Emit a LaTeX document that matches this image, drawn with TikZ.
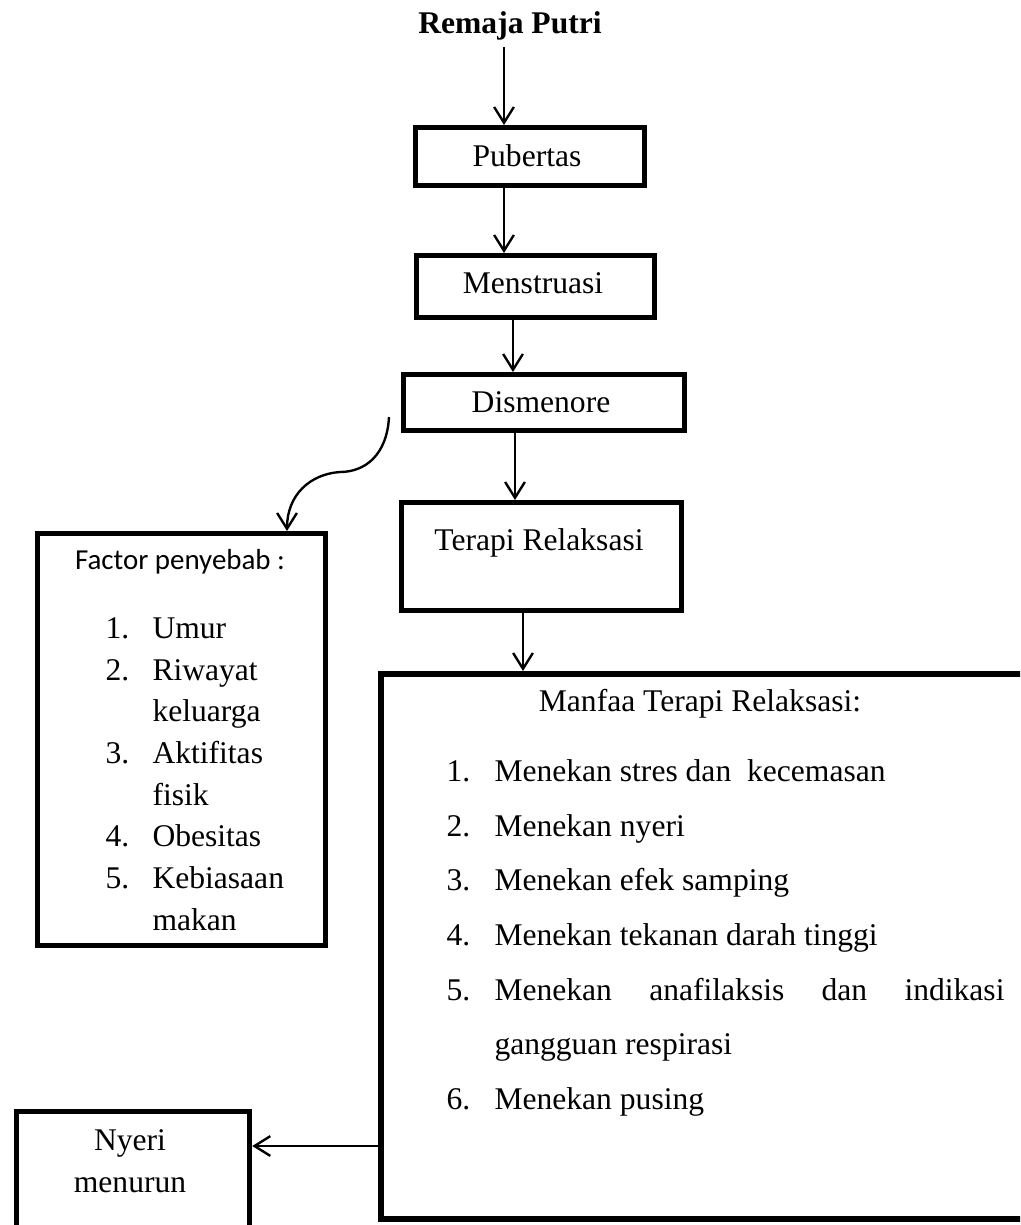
\documentclass[tikz,border=0pt]{standalone}
\usepackage{fontspec}
\setmainfont{Liberation Serif}
\newfontfamily\calfont{Carlito}
\usetikzlibrary{arrows.meta}
\newcommand\mybox[6][]{\node[box,#1,minimum width={(#5-#3)*0.38pt},minimum height={(#6-#4)*0.38pt}] (#2) at (#3,#4) {};}
\begin{document}
\begin{tikzpicture}[x=0.38pt,y=-0.38pt,
  box/.style={draw, line width=2pt, inner sep=0pt, anchor=north west, line join=miter},
  arr/.style={line width=0.9pt, -{Straight Barb[length=6pt,width=7.5pt,line width=0.9pt]}},
  txt/.style={inner sep=0pt, anchor=base, font=\fontsize{12}{14}\selectfont},
  lft/.style={txt, anchor=base west},
  ctxt/.style={inner sep=0pt, anchor=base, font=\calfont\fontsize{11}{13}\selectfont}]
\useasboundingbox (0,0) rectangle (1020,1225);
\clip (0,0) rectangle (1020,1225);
% boxes
\mybox{pub}{413}{125}{642}{183}
\mybox{men}{414}{253}{652}{315}
\mybox{dis}{401}{372}{682}{428}
\mybox{ter}{399}{500}{679}{608}
\mybox[line width=2.3pt]{man}{378}{671}{1060}{1216}
\mybox{fac}{35}{531}{323}{943}
\mybox{nye}{14}{1109}{247}{1260}
% texts
\node[txt, font=\fontsize{12}{14}\selectfont\bfseries] (remaja) at (510,33) {Remaja Putri};
\node[txt] (pubt) at (527,166) {Pubertas};
\node[txt] (ment) at (533,293) {Menstruasi};
\node[txt] (dist) at (541,412) {Dismenore};
\node[txt] (tert) at (539,550) {Terapi Relaksasi};
\node[txt] (mant) at (700,711) {Manfaa Terapi Relaksasi:};
\node[lft] (mn1) at (446,781) {1.};
\node[lft] (mi1) at (494,781) {Menekan stres dan\ \ kecemasan};
\node[lft] (mn2) at (446,836) {2.};
\node[lft] (mi2) at (494,836) {Menekan nyeri};
\node[lft] (mn3) at (446,890) {3.};
\node[lft] (mi3) at (494,890) {Menekan efek samping};
\node[lft] (mn4) at (446,945) {4.};
\node[lft] (mi4) at (494,945) {Menekan tekanan darah tinggi};
\node[lft] (mn5) at (446,1000) {5.};
\node[lft] (mi5) at (494,1000) {\hbox to 193.8pt{Menekan\hfill anafilaksis\hfill dan\hfill indikasi}};
\node[lft] (mi5b) at (494,1054) {gangguan respirasi};
\node[lft] (mn6) at (446,1109) {6.};
\node[lft] (mi6) at (494,1109) {Menekan pusing};
\node[ctxt] (fact) at (180,569) {Factor penyebab :};
\node[lft] (fn1) at (105,638) {1.};
\node[lft] (fi1) at (152,638) {Umur};
\node[lft] (fn2) at (105,680) {2.};
\node[lft] (fi2) at (152,680) {Riwayat};
\node[lft] (fi2b) at (152,721) {keluarga};
\node[lft] (fn3) at (105,763) {3.};
\node[lft] (fi3) at (152,763) {Aktifitas};
\node[lft] (fi3b) at (152,805) {fisik};
\node[lft] (fn4) at (105,846) {4.};
\node[lft] (fi4) at (152,846) {Obesitas};
\node[lft] (fn5) at (105,888) {5.};
\node[lft] (fi5) at (152,888) {Kebiasaan};
\node[lft] (fi5b) at (152,930) {makan};
\node[txt] (nyt1) at (130,1150) {Nyeri};
\node[txt] (nyt2) at (130,1192) {menurun};
% connector x/y references
\coordinate (c504) at (504,0);
\coordinate (c513) at (513,0);
\coordinate (c515) at (515,0);
\coordinate (c523) at (523,0);
\coordinate (c287) at (287,0);
\coordinate (c1146) at (0,1146);
\coordinate (cs) at (389,417);
% connectors
\draw[arr, shorten <=2.5pt] (remaja.south -| c504) -- (pub.north -| c504);
\draw[arr] (pub.south -| c504) -- (men.north -| c504);
\draw[arr] (men.south -| c513) -- (dis.north -| c513);
\draw[arr] (dis.south -| c515) -- (ter.north -| c515);
\draw[arr] (ter.south -| c523) -- (man.north -| c523);
\draw[arr] (cs) .. controls (387,455) and (365,472) .. (340,472)
  .. controls (310,474) and (287,495) .. (fac.north -| c287);
\draw[arr] (man.west |- c1146) -- (nye.east |- c1146);
\end{tikzpicture}
\end{document}
